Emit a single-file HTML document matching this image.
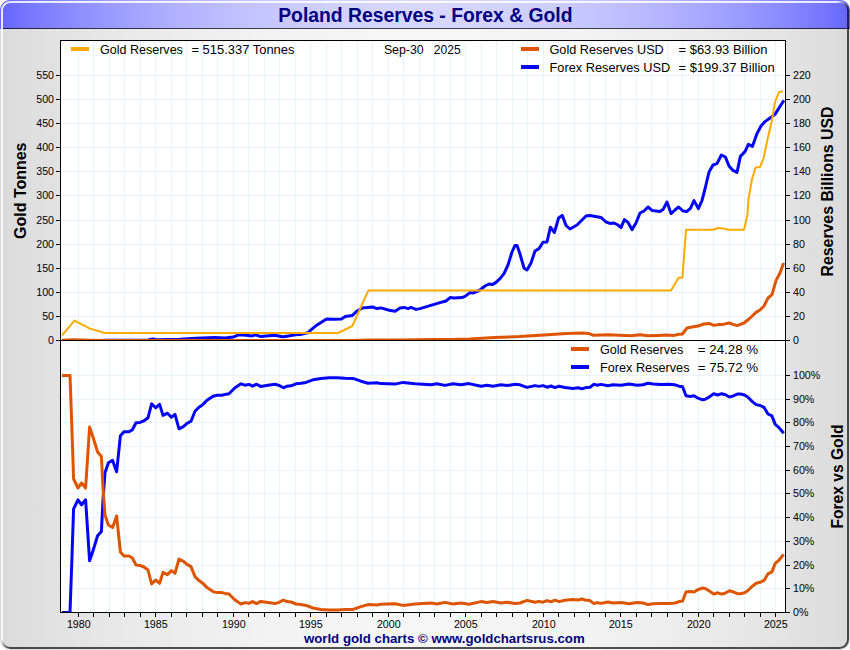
<!DOCTYPE html>
<html><head><meta charset="utf-8"><title>Poland Reserves - Forex &amp; Gold</title>
<style>html,body{margin:0;padding:0;background:#fff;width:850px;height:650px;overflow:hidden}</style>
</head><body>
<svg width="850" height="650" viewBox="0 0 850 650" style="display:block;font-family:'Liberation Sans', sans-serif">
<defs>
<linearGradient id="gbody" x1="0" y1="0" x2="1" y2="0"><stop offset="0" stop-color="#dadada"/><stop offset="0.025" stop-color="#dedede"/><stop offset="0.05" stop-color="#e0e0e0"/><stop offset="0.075" stop-color="#e3e3e3"/><stop offset="0.1" stop-color="#e5e5e5"/><stop offset="0.125" stop-color="#e7e7e7"/><stop offset="0.15" stop-color="#e9e9e9"/><stop offset="0.175" stop-color="#ebebeb"/><stop offset="0.2" stop-color="#ececec"/><stop offset="0.225" stop-color="#eeeeee"/><stop offset="0.25" stop-color="#efefef"/><stop offset="0.275" stop-color="#f0f0f0"/><stop offset="0.3" stop-color="#f2f2f2"/><stop offset="0.325" stop-color="#f3f3f3"/><stop offset="0.35" stop-color="#f4f4f4"/><stop offset="0.375" stop-color="#f4f4f4"/><stop offset="0.4" stop-color="#f5f5f5"/><stop offset="0.425" stop-color="#f5f5f5"/><stop offset="0.45" stop-color="#f6f6f6"/><stop offset="0.475" stop-color="#f6f6f6"/><stop offset="0.5" stop-color="#f6f6f6"/><stop offset="0.525" stop-color="#f6f6f6"/><stop offset="0.55" stop-color="#f6f6f6"/><stop offset="0.575" stop-color="#f5f5f5"/><stop offset="0.6" stop-color="#f5f5f5"/><stop offset="0.625" stop-color="#f4f4f4"/><stop offset="0.65" stop-color="#f4f4f4"/><stop offset="0.675" stop-color="#f3f3f3"/><stop offset="0.7" stop-color="#f2f2f2"/><stop offset="0.725" stop-color="#f0f0f0"/><stop offset="0.75" stop-color="#efefef"/><stop offset="0.775" stop-color="#eeeeee"/><stop offset="0.8" stop-color="#ececec"/><stop offset="0.825" stop-color="#ebebeb"/><stop offset="0.85" stop-color="#e9e9e9"/><stop offset="0.875" stop-color="#e7e7e7"/><stop offset="0.9" stop-color="#e5e5e5"/><stop offset="0.925" stop-color="#e3e3e3"/><stop offset="0.95" stop-color="#e0e0e0"/><stop offset="0.975" stop-color="#dedede"/><stop offset="1" stop-color="#dadada"/></linearGradient>
<linearGradient id="gtitle" x1="0" y1="0" x2="1" y2="0"><stop offset="0" stop-color="#6464ff"/><stop offset="0.025" stop-color="#7373ff"/><stop offset="0.05" stop-color="#7e7eff"/><stop offset="0.075" stop-color="#8888ff"/><stop offset="0.1" stop-color="#9191ff"/><stop offset="0.125" stop-color="#9999ff"/><stop offset="0.15" stop-color="#a1a1ff"/><stop offset="0.175" stop-color="#a8a8ff"/><stop offset="0.2" stop-color="#afafff"/><stop offset="0.225" stop-color="#b5b5ff"/><stop offset="0.25" stop-color="#babaff"/><stop offset="0.275" stop-color="#c0c0ff"/><stop offset="0.3" stop-color="#c4c4ff"/><stop offset="0.325" stop-color="#c8c8ff"/><stop offset="0.35" stop-color="#ccccff"/><stop offset="0.375" stop-color="#cfcfff"/><stop offset="0.4" stop-color="#d2d2ff"/><stop offset="0.425" stop-color="#d3d3ff"/><stop offset="0.45" stop-color="#d5d5ff"/><stop offset="0.475" stop-color="#d6d6ff"/><stop offset="0.5" stop-color="#d6d6ff"/><stop offset="0.525" stop-color="#d6d6ff"/><stop offset="0.55" stop-color="#d5d5ff"/><stop offset="0.575" stop-color="#d3d3ff"/><stop offset="0.6" stop-color="#d2d2ff"/><stop offset="0.625" stop-color="#cfcfff"/><stop offset="0.65" stop-color="#ccccff"/><stop offset="0.675" stop-color="#c8c8ff"/><stop offset="0.7" stop-color="#c4c4ff"/><stop offset="0.725" stop-color="#c0c0ff"/><stop offset="0.75" stop-color="#babaff"/><stop offset="0.775" stop-color="#b5b5ff"/><stop offset="0.8" stop-color="#afafff"/><stop offset="0.825" stop-color="#a8a8ff"/><stop offset="0.85" stop-color="#a1a1ff"/><stop offset="0.875" stop-color="#9999ff"/><stop offset="0.9" stop-color="#9191ff"/><stop offset="0.925" stop-color="#8888ff"/><stop offset="0.95" stop-color="#7e7eff"/><stop offset="0.975" stop-color="#7373ff"/><stop offset="1" stop-color="#6464ff"/></linearGradient>
<clipPath id="frame"><rect x="0" y="0" width="850" height="650" rx="10" ry="10"/></clipPath>
<linearGradient id="gbev" x1="0" y1="0" x2="1" y2="1"><stop offset="0" stop-color="#fff" stop-opacity="0.85"/><stop offset="0.4935" stop-color="#fff" stop-opacity="0.85"/><stop offset="0.5045" stop-color="#000" stop-opacity="0.67"/><stop offset="1" stop-color="#000" stop-opacity="0.67"/></linearGradient>
<clipPath id="cTop"><rect x="61" y="41" width="724" height="299"/></clipPath>
<clipPath id="cBot"><rect x="61" y="341" width="724" height="272"/></clipPath>
</defs>
<rect width="850" height="650" fill="#ffffff"/>
<g clip-path="url(#frame)">
<rect x="0" y="0" width="850" height="650" fill="url(#gbody)"/>
<rect x="0" y="0" width="850" height="29" fill="url(#gtitle)"/>
<rect x="3" y="28" width="846" height="1" fill="#000" fill-opacity="0.7"/>
<rect x="2" y="2" width="846" height="646" rx="8.5" ry="8.5" fill="none" stroke="url(#gbev)" stroke-width="2"/>
</g>
<text x="278.2" y="22" font-size="19.33" font-weight="bold" fill="#000080">Poland Reserves - Forex &amp; Gold</text>
<rect x="60" y="40" width="726" height="573" fill="#ffffff"/>
<path d="M78.5 41V612M93.5 41V612M109.5 41V612M124.5 41V612M140.5 41V612M155.5 41V612M171.5 41V612M186.5 41V612M202.5 41V612M217.5 41V612M233.5 41V612M248.5 41V612M264.5 41V612M279.5 41V612M295.5 41V612M310.5 41V612M326.5 41V612M341.5 41V612M357.5 41V612M372.5 41V612M388.5 41V612M403.5 41V612M419.5 41V612M434.5 41V612M450.5 41V612M465.5 41V612M481.5 41V612M496.5 41V612M512.5 41V612M527.5 41V612M543.5 41V612M558.5 41V612M574.5 41V612M589.5 41V612M605.5 41V612M620.5 41V612M636.5 41V612M651.5 41V612M667.5 41V612M682.5 41V612M698.5 41V612M713.5 41V612M729.5 41V612M744.5 41V612M760.5 41V612M775.5 41V612M61 316.5H785M61 292.5H785M61 268.5H785M61 244.5H785M61 220.5H785M61 195.5H785M61 171.5H785M61 147.5H785M61 123.5H785M61 99.5H785M61 75.5H785M61 588.5H785M61 565.5H785M61 541.5H785M61 517.5H785M61 493.5H785M61 470.5H785M61 446.5H785M61 422.5H785M61 399.5H785M61 375.5H785" stroke="#e8f3fb" stroke-width="1" fill="none" shape-rendering="crispEdges"/>
<g clip-path="url(#cTop)" fill="none" stroke-linejoin="round" stroke-linecap="butt">
<polyline points="62,340.7 100,340.6 106,340.2 148,339.9 152.6,339 157,339.7 180,339.2 196,338.2 215,337.5 225,337.9 233.2,337.1 239.1,334.7 246.2,335.3 252,335.9 255.6,334.9 260.3,336.4 266.2,335.9 274.4,335.2 282.6,336.7 288.5,335.9 295.6,334.8 300,334.5 307.8,332.8 311,329.9 315.5,326.1 321.4,322.2 326.5,318.9 333.6,319.2 341.4,318.9 345.3,316.4 352.4,315.4 356.9,311.2 362.1,307.9 367.3,307.6 372.5,307 377,308.6 380.9,307.9 389.3,310.3 395.1,311.2 400,308 404,307.4 408,308.6 411,307.4 416,309.4 420,308.6 430,305.6 440,302.6 446,301 450.4,297.4 454,298 462,297.6 465,296.4 470,292.6 473,293 480,290 485,286 489,284 492.4,284.6 496,282.4 500,278.6 504,273.6 508,265 512,252 515,245.4 517,245.4 520,254 524,268 527,270 531,263 535,251 539,248.6 543,242.2 547,242 550.4,227.2 554.4,232.5 558.6,218 562.2,215.4 566,225.4 570,229 577,225 586,216 590,215.4 601,217.4 606,222 610,223.4 614,223 618,225 621,227.6 624.4,219.6 628,222.4 632,229.6 636,223 640,213 644,211 648,207 652,210.4 660,211.6 663,209.6 667,202 671,213.6 675,210 678.6,207 683,211 687,211.4 690.4,208.4 694,200.6 698.4,208.6 702,200.5 705,189 709,172 713,165 717,163.6 721.4,155 725.4,157 729,166 733,170.4 737,172.4 740.4,156.4 745,151.6 748.4,144.4 752.4,146.4 757,133.6 761,126 765,121.6 770,118 775,114.4 779,108 784,100.4" stroke="#0505f6" stroke-width="3"/>
<polyline points="62,340.3 74,339.7 90,340.2 105,340.6 338,340.6 352,340.4 368,340 400,339.9 434,339.6 450,339.4 470,338.9 494.7,337.5 519.4,336.6 544,335 566.3,333.4 582.4,332.9 588.6,333.4 593.5,335.3 608.3,334.8 630.6,335.8 640,334.8 648,335.8 658,335.4 666,335 674,335.4 679,334.2 682.4,334 687,328 692,327 698,326 704,324 709,323.4 714,325.4 718,324.6 722,324.6 729,323 737,325.6 744,323 749,319 756,312.4 760,310 764,306 768,298 772,294.6 776,280.6 780,273 783.6,263" stroke="#dd5500" stroke-width="3"/>
<polyline points="62,335.4 74.4,320.6 90,328.6 105,333 338,333 352.4,326 368.4,290.4 671,290.4 678.6,277.8 682.4,277.8 686,229.8 713,229.8 718,228 723,228.4 729,229.8 744,229.8 747.4,215 748.4,200 752,179 755.6,167.6 760,167 763.6,158 767.6,139 771.6,122 775,102 779,92 783,91.6" stroke="#fbab00" stroke-width="2"/>
</g>
<g clip-path="url(#cBot)" fill="none" stroke-linejoin="round" stroke-linecap="butt">
<polyline points="62,612.4 70,612.4 71.6,567.8 73.6,508.8 78,499.8 81.6,504.8 85.6,499.8 89.6,560.8 93,550.8 97.6,535.8 101.4,531.4 103,499.8 105,472.8 108.4,462.8 112.6,460.4 116.6,471.8 120.4,435.8 124,431.8 129,431.8 132.4,429.8 136,422.8 140,422.4 144,420.8 148,417.8 151.6,403.8 155.6,407.8 159.6,404.4 163,415.4 167.4,413.2 171.4,417.2 175,414.4 179,428.8 183,426.8 187,423.4 191,421.2 195,411.2 199,407.2 203,404.4 207,400.2 213,396.2 217,395.2 222,395.2 225,394.4 229,393.8 235,387.8 241,383.8 245,385.2 249,384.4 252.6,386.2 256.6,384.2 260.6,386.4 268,385.2 275,384.2 279,385.4 283.4,387.8 287,386.2 291,385.8 296,383.8 301,383.2 306,382.4 313,379.8 321,378.4 329,377.8 337,377.8 345,378.2 353,378.4 361,381.2 368,383.2 377,382.8 381,383.6 395,384.1 403,382.4 415,383.8 431,384.8 437,383.8 445,385.4 453,383.8 461,384.8 469,383.6 481,386.2 487,385.2 493,386.2 501,384.8 507,385.6 515,384.2 520,384.8 527,387.4 535,385.6 539,386.4 543,385.6 547,387.2 551,386 555,387.6 559,386.2 565,387.5 573,388.4 578,387.8 582,388.8 585,387.8 590,387.2 594,384.2 597,385.2 601,384.4 608,385.8 613,384.8 621,385.2 629,384 637,385.2 643,384.8 648,383.2 653,384 661,384.4 669,384.2 675,384.8 679,386.2 682.6,386.8 686,395.8 690,396.4 694,395.8 698,398.2 702.6,399.8 705.2,399.3 709.8,396.6 713.7,393.7 717.7,395 721.6,393.7 725.5,394.8 729.4,397 732.7,396.1 737.3,394.1 740.5,394 744.5,395 747.7,397 752.3,401.6 756.2,404.6 760.2,405.5 764.1,407.4 768,414 771.9,415.9 775.2,424.4 778.5,427.1 781.8,431 783.7,433.2" stroke="#0505f6" stroke-width="3"/>
<polyline points="62,375.4 70,375.4 71.6,420 73.6,479 78,488 81.6,483 85.6,488 89.6,427 93,437 97.6,452 101.4,456.4 103,488 105,515 108.4,525 112.6,527.4 116.6,516 120.4,552 124,556 129,556 132.4,558 136,565 140,565.4 144,567 148,570 151.6,584 155.6,580 159.6,583.4 163,572.4 167.4,574.6 171.4,570.6 175,573.4 179,559 183,561 187,564.4 191,566.6 195,576.6 199,580.6 203,583.4 207,587.6 213,591.6 217,592.6 222,592.6 225,593.4 229,594 235,600 241,604 245,602.6 249,603.4 252.6,601.6 256.6,603.6 260.6,601.4 268,602.6 275,603.6 279,602.4 283.4,600 287,601.6 291,602 296,604 301,604.6 306,605.4 313,608 321,609.4 329,610 337,610 345,609.6 353,609.4 361,606.6 368,604.6 377,605 381,604.2 395,603.7 403,605.4 415,604 431,603 437,604 445,602.4 453,604 461,603 469,604.2 481,601.6 487,602.6 493,601.6 501,603 507,602.2 515,603.6 520,603 527,600.4 535,602.2 539,601.4 543,602.2 547,600.6 551,601.8 555,600.2 559,601.6 565,600.3 573,599.4 578,600 582,599 585,600 590,600.6 594,603.6 597,602.6 601,603.4 608,602 613,603 621,602.6 629,603.8 637,602.6 643,603 648,604.6 653,603.8 661,603.4 669,603.6 675,603 679,601.6 682.6,601 686,592 690,591.4 694,592 698,589.6 702.6,588 705.2,588.5 709.8,591.2 713.7,594.1 717.7,592.8 721.6,594.1 725.5,593 729.4,590.8 732.7,591.7 737.3,593.7 740.5,593.8 744.5,592.8 747.7,590.8 752.3,586.2 756.2,583.2 760.2,582.3 764.1,580.4 768,573.8 771.9,571.9 775.2,563.4 778.5,560.7 781.8,556.8 783.7,554.6" stroke="#dd5500" stroke-width="3"/>
</g>
<path d="M60.5 40V613M785.5 40V613M60 40.5H786M60 340.5H786M60 612.5H786M56 340.5H60M786 340.5H790M56 316.5H60M786 316.5H790M56 292.5H60M786 292.5H790M56 268.5H60M786 268.5H790M56 244.5H60M786 244.5H790M56 220.5H60M786 220.5H790M56 195.5H60M786 195.5H790M56 171.5H60M786 171.5H790M56 147.5H60M786 147.5H790M56 123.5H60M786 123.5H790M56 99.5H60M786 99.5H790M56 75.5H60M786 75.5H790M786 612.5H790M786 588.5H790M786 565.5H790M786 541.5H790M786 517.5H790M786 493.5H790M786 470.5H790M786 446.5H790M786 422.5H790M786 399.5H790M786 375.5H790M78.5 613V617M93.5 613V617M109.5 613V617M124.5 613V617M140.5 613V617M155.5 613V617M171.5 613V617M186.5 613V617M202.5 613V617M217.5 613V617M233.5 613V617M248.5 613V617M264.5 613V617M279.5 613V617M295.5 613V617M310.5 613V617M326.5 613V617M341.5 613V617M357.5 613V617M372.5 613V617M388.5 613V617M403.5 613V617M419.5 613V617M434.5 613V617M450.5 613V617M465.5 613V617M481.5 613V617M496.5 613V617M512.5 613V617M527.5 613V617M543.5 613V617M558.5 613V617M574.5 613V617M589.5 613V617M605.5 613V617M620.5 613V617M636.5 613V617M651.5 613V617M667.5 613V617M682.5 613V617M698.5 613V617M713.5 613V617M729.5 613V617M744.5 613V617M760.5 613V617M775.5 613V617" stroke="#000000" stroke-width="1" fill="none" shape-rendering="crispEdges"/>
<g font-size="10.67" fill="#000000">
<text x="54" y="344.3" text-anchor="end">0</text>
<text x="793" y="344.3">0</text>
<text x="54" y="320.3" text-anchor="end">50</text>
<text x="793" y="320.3">20</text>
<text x="54" y="296.3" text-anchor="end">100</text>
<text x="793" y="296.3">40</text>
<text x="54" y="272.3" text-anchor="end">150</text>
<text x="793" y="272.3">60</text>
<text x="54" y="248.3" text-anchor="end">200</text>
<text x="793" y="248.3">80</text>
<text x="54" y="224.3" text-anchor="end">250</text>
<text x="793" y="224.3">100</text>
<text x="54" y="199.3" text-anchor="end">300</text>
<text x="793" y="199.3">120</text>
<text x="54" y="175.3" text-anchor="end">350</text>
<text x="793" y="175.3">140</text>
<text x="54" y="151.3" text-anchor="end">400</text>
<text x="793" y="151.3">160</text>
<text x="54" y="127.3" text-anchor="end">450</text>
<text x="793" y="127.3">180</text>
<text x="54" y="103.3" text-anchor="end">500</text>
<text x="793" y="103.3">200</text>
<text x="54" y="79.3" text-anchor="end">550</text>
<text x="793" y="79.3">220</text>
<text x="793" y="616.3">0%</text>
<text x="793" y="592.3">10%</text>
<text x="793" y="569.3">20%</text>
<text x="793" y="545.3">30%</text>
<text x="793" y="521.3">40%</text>
<text x="793" y="497.3">50%</text>
<text x="793" y="474.3">60%</text>
<text x="793" y="450.3">70%</text>
<text x="793" y="426.3">80%</text>
<text x="793" y="403.3">90%</text>
<text x="793" y="379.3">100%</text>
<text x="78.8" y="628.2" text-anchor="middle">1980</text>
<text x="155.8" y="628.2" text-anchor="middle">1985</text>
<text x="233.8" y="628.2" text-anchor="middle">1990</text>
<text x="310.8" y="628.2" text-anchor="middle">1995</text>
<text x="388.8" y="628.2" text-anchor="middle">2000</text>
<text x="465.8" y="628.2" text-anchor="middle">2005</text>
<text x="543.8" y="628.2" text-anchor="middle">2010</text>
<text x="620.8" y="628.2" text-anchor="middle">2015</text>
<text x="698.8" y="628.2" text-anchor="middle">2020</text>
<text x="775.8" y="628.2" text-anchor="middle">2025</text>
</g>
<g font-size="16" font-weight="bold" fill="#000000" text-anchor="middle">
<text transform="translate(25.5,190.7) rotate(-90)" textLength="96.4" lengthAdjust="spacingAndGlyphs">Gold Tonnes</text>
<text transform="translate(833,191.5) rotate(-90)" textLength="170" lengthAdjust="spacingAndGlyphs">Reserves Billions USD</text>
<text transform="translate(843,476.5) rotate(-90)" textLength="104" lengthAdjust="spacingAndGlyphs">Forex vs Gold</text>
</g>
<g shape-rendering="crispEdges">
<rect x="71" y="47" width="18" height="4" fill="#fbab00"/>
<rect x="521" y="47" width="18" height="4" fill="#dd5500"/>
<rect x="521" y="65" width="18" height="4" fill="#0505f6"/>
<rect x="571" y="347" width="18" height="4" fill="#dd5500"/>
<rect x="571" y="365" width="18" height="4" fill="#0505f6"/>
</g>
<g font-size="13" fill="#000000" style="white-space:pre">
<text x="99.9" y="54" textLength="83" lengthAdjust="spacingAndGlyphs" xml:space="preserve">Gold Reserves</text>
<text x="191.4" y="54" textLength="103.1" lengthAdjust="spacingAndGlyphs" xml:space="preserve">= 515.337 Tonnes</text>
<text x="383.9" y="54" textLength="39.8" lengthAdjust="spacingAndGlyphs" xml:space="preserve">Sep-30</text>
<text x="433.8" y="54" textLength="26.8" lengthAdjust="spacingAndGlyphs" xml:space="preserve">2025</text>
<text x="549.5" y="54" textLength="114.3" lengthAdjust="spacingAndGlyphs" xml:space="preserve">Gold Reserves USD</text>
<text x="678.5" y="54" textLength="89" lengthAdjust="spacingAndGlyphs" xml:space="preserve">= $63.93 Billion</text>
<text x="549.5" y="72" textLength="120.8" lengthAdjust="spacingAndGlyphs" xml:space="preserve">Forex Reserves USD</text>
<text x="678.5" y="72" textLength="96.2" lengthAdjust="spacingAndGlyphs" xml:space="preserve">= $199.37 Billion</text>
<text x="600.0" y="354" textLength="83.3" lengthAdjust="spacingAndGlyphs" xml:space="preserve">Gold Reserves</text>
<text x="697.8" y="354" textLength="60.4" lengthAdjust="spacingAndGlyphs" xml:space="preserve">= 24.28 %</text>
<text x="600.0" y="372" textLength="89.5" lengthAdjust="spacingAndGlyphs" xml:space="preserve">Forex Reserves</text>
<text x="697.8" y="372" textLength="60.4" lengthAdjust="spacingAndGlyphs" xml:space="preserve">= 75.72 %</text>
</g>
<text x="303.9" y="642.5" font-size="13.33" font-weight="bold" fill="#000080" textLength="280.8" lengthAdjust="spacingAndGlyphs">world gold charts © www.goldchartsrus.com</text>
</svg>
</body></html>
